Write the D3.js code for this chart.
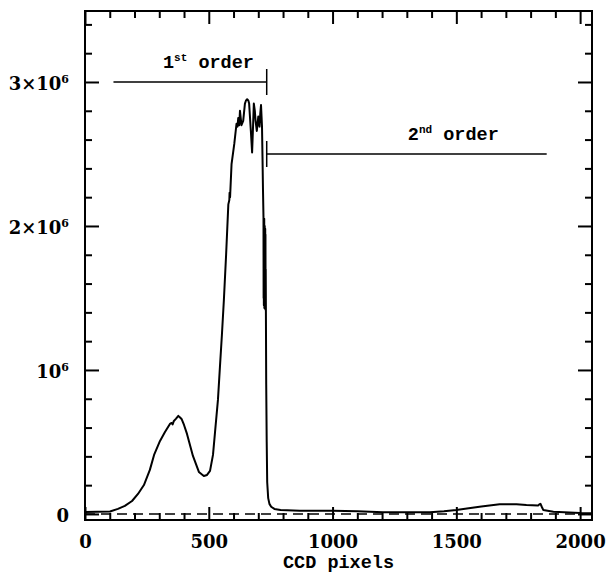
<!DOCTYPE html>
<html>
<head>
<meta charset="utf-8">
<script src="https://cdn.jsdelivr.net/npm/d3@7"></script>
<style>
    body { margin: 0; background: #fff; }
    .tick line { stroke: #000; stroke-width: 2; }
    .tick-label { font-family: "DejaVu Serif"; font-weight: bold; font-size: 18px; fill: #000; }
    .mono { font-family: "Liberation Mono"; font-weight: bold; font-size: 18.5px; fill: #000; }
</style>
</head>
<body>
<div id="wrapper"></div>
<script>
// spectrum: CCD pixel vs counts
const pixels = [0, 50, 101, 133, 161, 190, 214, 238, 262, 279, 303, 323, 343, 350, 354, 359, 367, 377, 383, 390,
    400, 412, 436, 460, 480, 493, 505, 517, 525, 537, 545, 553, 561, 570, 579, 583, 584, 586, 592, 603,
    612, 616, 619, 623, 626, 632, 639, 646, 650, 655, 660, 663, 670, 675, 679, 682, 686, 689, 694, 700,
    705, 708, 711, 715, 717, 719, 721, 721.5, 722, 722.5, 723, 723.5, 724, 724.5, 725, 725.5, 726, 726.5, 727, 727.5,
    728, 728.5, 729, 729.5, 730, 731, 732, 734, 736, 740,
    745, 752, 765, 790, 868, 1002, 1100, 1204, 1393, 1450, 1500, 1550, 1601, 1675, 1743, 1783, 1830, 1836, 1840, 1845,
    1851, 1892, 2000, 2047]
const counts = [14000, 15000, 17000, 35000, 56000, 90000, 139000, 201000, 306000, 410000, 507000, 569000, 625000, 632000, 622000, 646000, 660000, 681000, 672000, 660000,
    618000, 556000, 403000, 292000, 264000, 271000, 299000, 410000, 563000, 792000, 1020000, 1243000, 1486000, 1800000, 2150000, 2180000, 2230000, 2200000, 2430000, 2570000,
    2710000, 2690000, 2750000, 2700000, 2800000, 2700000, 2730000, 2850000, 2870000, 2880000, 2870000, 2850000, 2660000, 2510000, 2700000, 2850000, 2800000, 2730000, 2660000, 2760000,
    2690000, 2780000, 2840000, 2690000, 2480000, 2250000, 2060000, 1500000, 2040000, 1450000, 2010000, 1480000, 2050000, 1430000, 1990000, 1460000, 2000000, 1440000, 1960000, 1470000,
    1980000, 1420000, 1940000, 1440000, 1700000, 1300000, 900000, 500000, 220000, 110000,
    70000, 50000, 35000, 28000, 23000, 23000, 18000, 12000, 12000, 18000, 28000, 40000, 51000, 67000, 67000, 62000, 58000, 68000, 70000, 50000,
    28000, 16000, 6000, 5000]

// ticks
const xTicks = [0, 500, 1000, 1500, 2000]
const xTickLabels = ["0", "500", "1000", "1500", "2000"]
const xMinorTicks = d3.range(0, 21).map(i => i * 100).filter(v => v % 500 !== 0)
const yTicks = [0, 1e6, 2e6, 3e6]
const yTickBase = ["0", "10", "2\u00d710", "3\u00d710"]
const yTickExp = ["", "6", "6", "6"]
const yMinorTicks = d3.range(0, 18).map(i => i * 200000).filter(v => v % 1000000 !== 0)

// order annotations
const orderNum = ["1", "2"]
const orderSuffix = ["st", "nd"]
const orderStart = [115, 734]
const orderEnd = [734, 1865]
const orderLevel = [3000000, 2500000]
const orderBarAt = [734, 734]
const orderLabelAt = [315, 1304]

async function drawChart() {
    const data = pixels.map((p, i) => ({ x: p, y: counts[i] }))

    let dimensions = {
        width: 612,
        height: 574,
        margin: { top: 11, right: 20, bottom: 54, left: 85 },
    }
    dimensions.boundedWidth = dimensions.width - dimensions.margin.left - dimensions.margin.right
    dimensions.boundedHeight = dimensions.height - dimensions.margin.top - dimensions.margin.bottom

    const svg = d3.select("#wrapper").append("svg")
        .attr("width", dimensions.width)
        .attr("height", dimensions.height)

    const bounds = svg.append("g")
        .attr("transform", `translate(${dimensions.margin.left},${dimensions.margin.top})`)

    const xScale = d3.scaleLinear().domain([0, 2048]).range([0, dimensions.boundedWidth])
    const yScale = d3.scaleLinear().domain([-42000, 3493000]).range([dimensions.boundedHeight, 0])

    // zero level
    bounds.append("line")
        .attr("x1", xScale(0)).attr("x2", xScale(2048))
        .attr("y1", yScale(0)).attr("y2", yScale(0))
        .attr("stroke", "#000").attr("stroke-width", 1.5)
        .attr("stroke-dasharray", "10,6")

    // spectrum
    const lineGenerator = d3.line().x(d => xScale(d.x)).y(d => yScale(d.y))
    bounds.append("path")
        .attr("d", lineGenerator(data))
        .attr("fill", "none")
        .attr("stroke", "#000")
        .attr("stroke-width", 2)
        .attr("stroke-linejoin", "round")

    // axes, ticks pointing inward on all four sides
    const W = dimensions.boundedWidth, H = dimensions.boundedHeight
    const addAxis = (gen, tx, ty) => {
        const g = bounds.append("g").attr("transform", `translate(${tx},${ty})`).call(gen)
        g.select(".domain").remove()
        return g
    }
    const xAxis = addAxis(d3.axisBottom(xScale).tickValues(xTicks).tickSizeInner(-13).tickSizeOuter(0)
        .tickFormat((d, i) => xTickLabels[i]), 0, H)
    xAxis.selectAll("text")
        .attr("class", "tick-label")
        .attr("y", 28).attr("dy", null)
    addAxis(d3.axisBottom(xScale).tickValues(xMinorTicks).tickSizeInner(-7).tickSizeOuter(0).tickFormat(""), 0, H)
    addAxis(d3.axisTop(xScale).tickValues(xTicks).tickSizeInner(-13).tickSizeOuter(0).tickFormat(""), 0, 0)
    addAxis(d3.axisTop(xScale).tickValues(xMinorTicks).tickSizeInner(-7).tickSizeOuter(0).tickFormat(""), 0, 0)

    const yAxis = addAxis(d3.axisLeft(yScale).tickValues(yTicks).tickSizeInner(-14).tickSizeOuter(0).tickFormat(""), 0, 0)
    yAxis.selectAll(".tick text").each(function (d, i) {
        const t = d3.select(this)
            .attr("class", "tick-label")
            .attr("x", -16).attr("y", 8).attr("dy", null)
        t.append("tspan").text(yTickBase[i])
        if (yTickExp[i]) t.append("tspan").attr("dy", -7).style("font-size", "11px").text(yTickExp[i])
    })
    addAxis(d3.axisLeft(yScale).tickValues(yMinorTicks).tickSizeInner(-7).tickSizeOuter(0).tickFormat(""), 0, 0)
    addAxis(d3.axisRight(yScale).tickValues(yTicks).tickSizeInner(-14).tickSizeOuter(0).tickFormat(""), W, 0)
    addAxis(d3.axisRight(yScale).tickValues(yMinorTicks).tickSizeInner(-7).tickSizeOuter(0).tickFormat(""), W, 0)

    // frame
    bounds.append("rect")
        .attr("width", W).attr("height", H)
        .attr("fill", "none").attr("stroke", "#000").attr("stroke-width", 2)

    bounds.append("text")
        .attr("class", "mono")
        .attr("x", W / 2)
        .attr("y", H + 48)
        .attr("text-anchor", "middle")
        .text("CCD pixels")

    // order markers
    orderNum.forEach((n, i) => {
        const y = yScale(orderLevel[i])
        bounds.append("line")
            .attr("x1", xScale(orderStart[i])).attr("x2", xScale(orderEnd[i]))
            .attr("y1", y).attr("y2", y)
            .attr("stroke", "#000").attr("stroke-width", 1.5)
        bounds.append("line")
            .attr("x1", xScale(orderBarAt[i])).attr("x2", xScale(orderBarAt[i]))
            .attr("y1", y - 13).attr("y2", y + 13)
            .attr("stroke", "#000").attr("stroke-width", 1.5)
        const label = bounds.append("text")
            .attr("class", "mono")
            .attr("x", xScale(orderLabelAt[i]))
            .attr("y", y - 14)
        label.append("tspan").text(n)
        label.append("tspan").attr("dy", -7).style("font-size", "11px").text(orderSuffix[i])
        label.append("tspan").attr("dy", 7).text("\u00a0order")
    })
}
drawChart()
</script>
</body>
</html>
